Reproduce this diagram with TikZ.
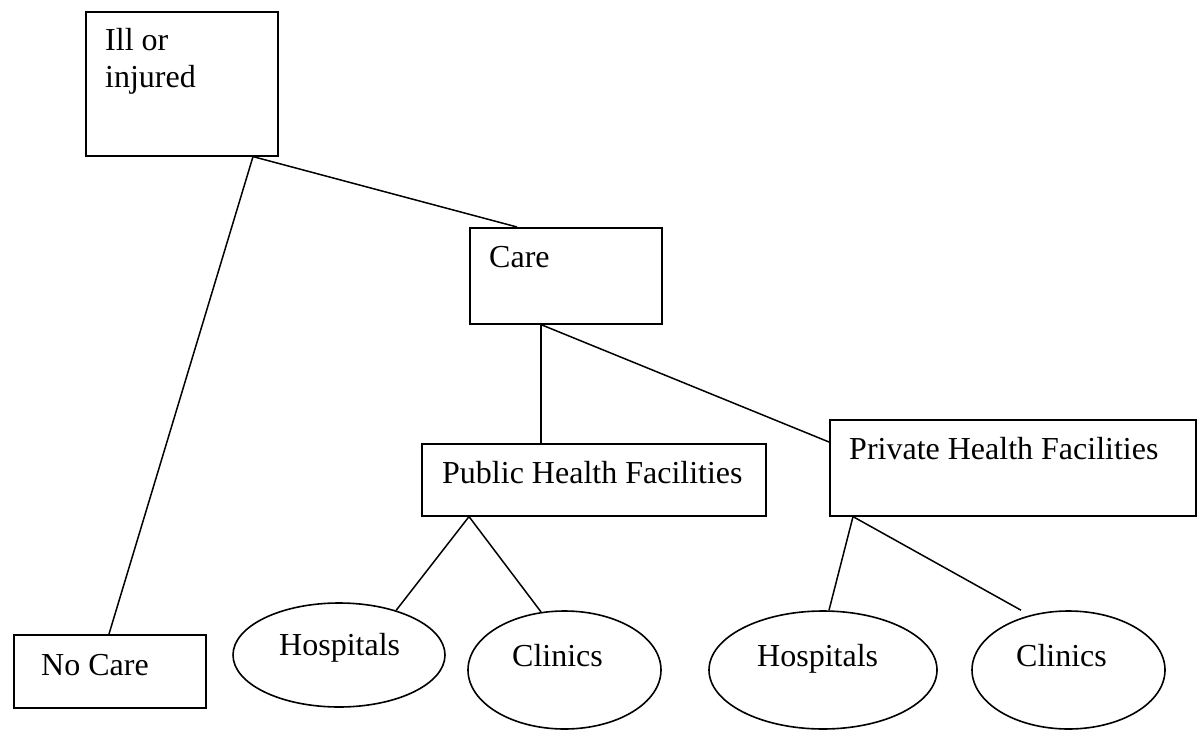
\documentclass[tikz,border=0pt]{standalone}
\usepackage{fontspec}
\setmainfont{Liberation Serif}
\usetikzlibrary{shapes.geometric,calc}
\tikzset{
  box/.style={draw, line width=1.6pt, rectangle, anchor=north west, inner sep=0pt},
  oval/.style={draw, line width=1.6pt, ellipse, inner sep=0pt},
  lbl/.style={anchor=base west, inner sep=0pt, font=\fontsize{32}{37.7}\selectfont, align=left},
  conn/.style={line width=1.5pt}
}
\begin{document}
\begin{tikzpicture}[x=1pt,y=-1pt]
\useasboundingbox (0,0) rectangle (1201,730);
% boxes
\node[box, minimum width=192pt, minimum height=144pt] (ill) at (85,11) {};
\node[box, minimum width=192pt, minimum height=96pt] (care) at (469,227) {};
\node[box, minimum width=344pt, minimum height=72pt] (public) at (421,443) {};
\node[box, minimum width=366pt, minimum height=96pt] (private) at (829,419) {};
\node[box, minimum width=192pt, minimum height=73pt] (nocare) at (13,634) {};
% ellipses
\node[oval, minimum width=212pt, minimum height=104pt] (hosp1) at (339,655) {};
\node[oval, minimum width=193pt, minimum height=118pt] (clin1) at (564.5,670) {};
\node[oval, minimum width=228pt, minimum height=118pt] (hosp2) at (823,670) {};
\node[oval, minimum width=193pt, minimum height=118pt] (clin2) at (1068.5,670) {};
% texts
\node[lbl] (illt) at (105,88) {Ill or\\injured};
\node[lbl] (caret) at (489,267) {Care};
\node[lbl] (publict) at (442,483) {Public Health Facilities};
\node[lbl] (privatet) at (849,459) {Private Health Facilities};
\node[lbl] (nocaret) at (41,675) {No Care};
\node[lbl] (hosp1t) at (279,655) {Hospitals};
\node[lbl] (clin1t) at (512,666) {Clinics};
\node[lbl] (hosp2t) at (757,666) {Hospitals};
\node[lbl] (clin2t) at (1016,666) {Clinics};
% connectors
\draw[conn] ([xshift=168pt]ill.south west) -- ([xshift=48pt]care.north west);
\draw[conn] ([xshift=168pt]ill.south west) -- ([xshift=96pt]nocare.north west);
\draw[conn] ([xshift=72pt]care.south west) -- ([xshift=120pt]public.north west);
\draw[conn] ([xshift=72pt]care.south west) -- ([yshift=-23pt]private.north west);
\draw[conn] ([xshift=48pt]public.south west) -- (hosp1.38);
\draw[conn] ([xshift=48pt]public.south west) -- (clin1.112);
\draw[conn] ([xshift=24pt]private.south west) -- ([xshift=6pt]hosp2.north);
\draw[conn] ([xshift=24pt]private.south west) -- ([xshift=-47.5pt]clin2.north);
\end{tikzpicture}
\end{document}
